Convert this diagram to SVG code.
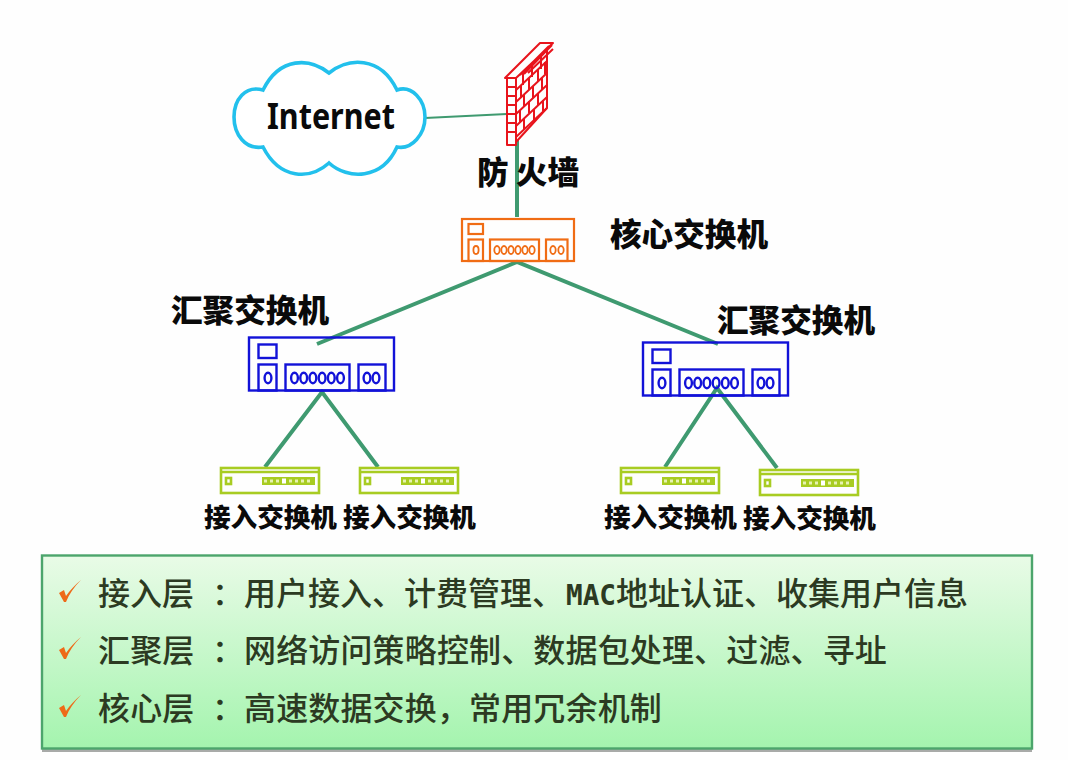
<svg xmlns="http://www.w3.org/2000/svg" xmlns:xlink="http://www.w3.org/1999/xlink" width="1068" height="760" viewBox="0 0 1068 760">
<style>
text{font-family:"Noto Sans CJK SC","Noto Sans",sans-serif}
.lb{font-size:31.6px;font-weight:900;fill:#0a0a0a}
.ac{font-size:26.6px;font-weight:900;fill:#0a0a0a}
.t{font-size:32px;font-weight:500;fill:#2c3a22}
.s{letter-spacing:.15px}
.m{font-family:"DejaVu Sans Mono",monospace;font-size:27.7px;font-weight:700}
.or,.bl,.gr,.wall,.ln{fill:none}
.or{stroke:#f06c14;stroke-width:2.2}
.bl{stroke:#1212d8;stroke-width:2.4}
.gr{stroke:#a8cc22;stroke-width:2.6}
.wall{stroke:#e8141c;stroke-width:2;stroke-linejoin:round}
.ln{stroke:#3f9a70;stroke-width:4}
.cloud{fill:#fff;stroke:#22c0ec;stroke-width:3.6}
.tick{fill:#ee6a18}
</style>
<defs>
<linearGradient id="panel" x1="0" y1="0" x2="0" y2="1">
<stop offset="0" stop-color="#e9fbe7"/><stop offset="1" stop-color="#a4f4ae"/>
</linearGradient>
<path id="tk" class="tick" d="M59 593L64 590L66 596C70 590 75 585 81 580C74 587 69 594 66 602L64 602Z"/>
<g id="acc">
<rect class="gr" x="221" y="468" width="98" height="25"/>
<path class="gr" d="M221 472H319" stroke-width="1.4"/>
<rect class="gr" x="226" y="478" width="5" height="6" stroke-width="1.6"/>
<rect x="262" y="477" width="53" height="8" fill="#a8cc22"/>
<path d="M264 479.500h3v3h-3zM270 479.500h3v3h-3zM276 479.500h3v3h-3zM289 479.500h3v3h-3zM295 479.500h3v3h-3zM301 479.500h3v3h-3zM307 479.500h3v3h-3z" fill="#e6f2b0"/>
<rect x="282" y="478.500" width="4" height="5" fill="#fff"/>
</g>
<g id="blue">
<rect class="bl" x="249" y="337.500" width="145" height="53"/>
<rect class="bl" x="258.500" y="344.500" width="18" height="13.500"/>
<rect class="bl" x="258.500" y="364.500" width="18" height="26"/>
<rect class="bl" x="285.500" y="364.500" width="64" height="26"/>
<rect class="bl" x="358.500" y="364.500" width="27" height="26"/>
<g class="bl"><ellipse cx="268" cy="378" rx="3.400" ry="5.200"/><ellipse cx="294.500" cy="378" rx="3.400" ry="5.200"/><ellipse cx="303.700" cy="378" rx="3.400" ry="5.200"/><ellipse cx="312.900" cy="378" rx="3.400" ry="5.200"/><ellipse cx="322.100" cy="378" rx="3.400" ry="5.200"/><ellipse cx="331.300" cy="378" rx="3.400" ry="5.200"/><ellipse cx="340.500" cy="378" rx="3.400" ry="5.200"/><ellipse cx="367" cy="378" rx="3.400" ry="5.200"/><ellipse cx="376" cy="378" rx="3.400" ry="5.200"/></g>
</g>
</defs>
<rect width="1068" height="760" fill="#fefefe"/>

<g id="connectors">
<path class="ln" style="stroke-width:2" d="M425 118L507 114"/>
<path class="ln" d="M517 140V217"/>
<path class="ln" d="M317 344L517 262L718 344"/>
<path class="ln" d="M265 467L322 392L378 467"/>
<path class="ln" d="M665 467L717 388L777 468"/>
</g>

<g id="internet">
<path class="cloud" d="M329 73C310 58 280 56 263 90C245 85 234 100 234 117C234 134 245 150 263 147C280 180 310 180 329 163C348 180 382 180 397 147C412 150 425 134 425 117C425 100 412 85 397 90C380 55 348 58 329 73Z"/>
<text x="267" y="129" textLength="128" lengthAdjust="spacingAndGlyphs" style="font-family:'Noto Sans',sans-serif;font-size:36px;font-weight:700;fill:#0a0a0a">Internet</text>
</g>

<g id="firewall">
<path class="wall" d="M505 78L540 43H553L516 78H505ZM507 78H516V145H507ZM516 78L547 50V108L516 142M520 75L549 46M524 74L552 45M528 73L553 49"/>
<path class="wall" d="M507 87H516M507 96H516M507 105H516M507 114H516M507 123H516M507 132H516"/>
<path class="wall" d="M516 90L547 61M516 102L547 73M516 114L547 85M516 126L547 97M516 137L547 108M523 72V85M532 64V77M541 56V69M521 85V97M529 78V90M538 69V81M545 62V74M524 94V106M533 86V98M542 77V89M520 110V122M529 101V113M538 93V105M524 118V130M534 109V121M543 100V112"/>
<text class="lb" x="477" y="184">防 火墙</text>
</g>

<g id="core">
<rect class="or" x="462" y="219" width="112" height="42"/>
<rect class="or" x="468.500" y="224" width="14.500" height="10"/>
<rect class="or" x="468.500" y="239.500" width="14.500" height="21.500"/>
<rect class="or" x="490" y="239.500" width="49" height="21.500"/>
<rect class="or" x="546" y="239.500" width="21.500" height="21.500"/>
<g class="or" style="stroke-width:1.800"><ellipse cx="476" cy="250" rx="2.600" ry="4"/><ellipse cx="497" cy="250" rx="2.700" ry="4"/><ellipse cx="504" cy="250" rx="2.700" ry="4"/><ellipse cx="511" cy="250" rx="2.700" ry="4"/><ellipse cx="518" cy="250" rx="2.700" ry="4"/><ellipse cx="525" cy="250" rx="2.700" ry="4"/><ellipse cx="532" cy="250" rx="2.700" ry="4"/><ellipse cx="553" cy="250" rx="2.700" ry="4"/><ellipse cx="561" cy="250" rx="2.700" ry="4"/></g>
<text class="lb" x="610" y="246">核心交换机</text>
</g>

<g id="agg-left">
<use href="#blue"/>
<text class="lb" x="171" y="322">汇聚交换机</text>
</g>
<g id="agg-right">
<use href="#blue" x="394" y="5"/>
<text class="lb" x="717" y="332">汇聚交换机</text>
</g>

<g id="access-1"><use href="#acc"/><text class="ac" x="204" y="527">接入交换机</text></g>
<g id="access-2"><use href="#acc" x="139" y="0"/><text class="ac" x="343" y="527">接入交换机</text></g>
<g id="access-3"><use href="#acc" x="400" y="0"/><text class="ac" x="604" y="527">接入交换机</text></g>
<g id="access-4"><use href="#acc" x="539" y="2"/><text class="ac" x="743" y="528">接入交换机</text></g>

<g id="panel-box">
<rect x="42" y="558" width="990" height="194" fill="#a8aaa8"/>
<rect x="42" y="555.500" width="990" height="193" fill="url(#panel)" stroke="#4ca56c" stroke-width="2.400"/>
<use href="#tk"/>
<use href="#tk" y="57"/>
<use href="#tk" y="115"/>
<text class="t" y="605"><tspan x="98">接入层</tspan><tspan x="212">：</tspan><tspan x="244">用户接入、计费管理、</tspan><tspan class="m" x="566">MAC</tspan><tspan x="616">地址认证、收集用户信息</tspan></text>
<text class="t s" y="662"><tspan x="98">汇聚层</tspan><tspan x="212">：</tspan><tspan x="244">网络访问策略控制、数据包处理、过滤、寻址</tspan></text>
<text class="t s" y="720"><tspan x="98">核心层</tspan><tspan x="212">：</tspan><tspan x="244">高速数据交换，常用冗余机制</tspan></text>
</g>
</svg>
